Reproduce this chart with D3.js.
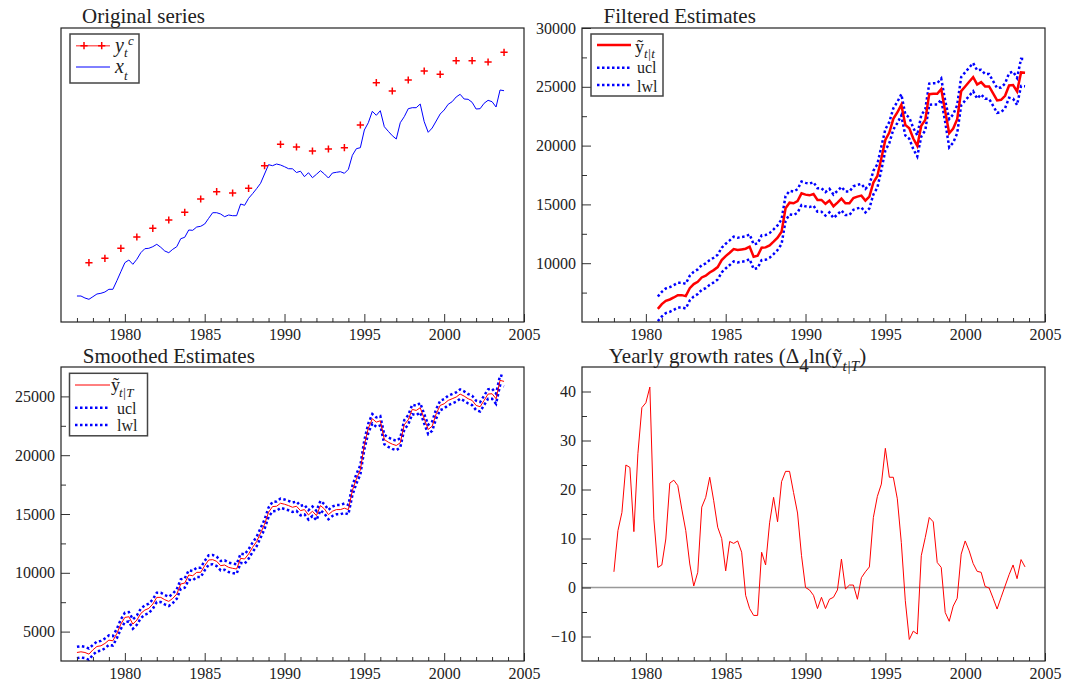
<!DOCTYPE html>
<html>
<head>
<meta charset="utf-8">
<script src="https://cdn.jsdelivr.net/npm/d3@7"></script>
<style>
  body { margin: 0; background: #fff; }
  text { font-family: "Liberation Serif", "Times New Roman", serif; }
</style>
</head>
<body>
<svg id="chart" width="1066" height="688"></svg>
<script>
// ---- data ---------------------------------------------------------------
// quarterly indicator x_t, 1977Q1..2003Q4 (panel has no y scale, plot units)
const xT = [
  26, 26, 24, 22.7, 25.3, 28, 28.7, 30, 32.7, 32.7,
  41.3, 50.3, 59.3, 62, 57.7, 62.7, 69.3, 73.3, 73.7, 75.3,
  77.7, 74.7, 71, 69.3, 72.7, 75.3, 83.3, 84.7, 92, 91.7,
  95, 95.7, 98, 103.7, 109.3, 109.3, 108, 105.3, 107, 106.3,
  106.3, 118, 116.7, 123.7, 128.3, 133.3, 138.7, 148, 157.3, 156.3,
  158, 157, 155.3, 153.3, 153.2, 149.5, 150.8, 145.3, 149.3, 144.3,
  147.7, 151.3, 148, 144, 149, 149.7, 150.3, 148.7, 152.7, 166.7,
  173.3, 174.3, 192, 199.3, 210.7, 206.7, 211.3, 195.3, 190.7, 186.3,
  183, 199.3, 205.3, 213.3, 214.3, 214.3, 218, 200.3, 189.7, 194,
  201, 208, 212, 217.7, 220.3, 225, 227.7, 223, 222.7, 219.7,
  213, 213.3, 218.7, 221.7, 220.3, 215, 232, 231.3
];
// annual series y_t^c, 1977..2003 (plotted at Q4)
const yC = [
  59.3, 63.7, 73.7, 85, 93.7, 102, 109.7, 123, 130.3, 129,
  133.7, 156.3, 177.7, 175, 171, 173, 174.3, 197, 239.3, 231,
  242, 251, 247.7, 261.3, 261.3, 260, 269.7
];
// filtered estimates, 1980Q4..2003Q4
const filtEst = [
  6120, 6518, 6802, 6915, 7086, 7284, 7284, 7199, 7881, 8221,
  8420, 8789, 8931, 9215, 9414, 9669, 10265, 10606, 10890, 11202,
  11117, 11174, 11231, 11401, 10549, 10634, 11316, 11344, 11514, 11827,
  12167, 12678, 14666, 15148, 15092, 15290, 15943, 15830, 15773, 15887,
  15376, 15380, 15050, 15320, 14840, 15150, 15490, 15093, 15093, 15547,
  15660, 15746, 15320, 15660, 16852, 17420, 18925, 20487, 21111, 22275,
  22815, 23468, 21764, 21480, 20600, 19976, 21679, 22190, 24376, 24405,
  24405, 24802, 22900, 21054, 21452, 22247, 24632, 25029, 25427, 25824,
  25199, 25398, 25029, 25029, 24433, 23837, 23893, 24234, 25114, 25143,
  24603, 26222, 26200
];
// half width of the filtered band, by year 1980..2003
const filtBandYear = [
  1050, 1050, 1050, 1050, 1050, 1050, 1050, 1050, 1050,
  1000, 1000, 1000, 1000, 1000, 1000,
  900, 900, 900, 900,
  1200, 1200, 1050, 1050, 1150
];
// smoothed estimates, 1977Q1..2003Q4
const smoothEst = [
  3224, 3281, 3224, 3082, 3451, 3735, 3792, 3991, 4275, 4218,
  4843, 5638, 6205, 6262, 5638, 5978, 6546, 6830, 6972, 7342,
  7909, 7909, 7710, 7569, 7824, 8193, 9044, 9130, 9811, 9754,
  10038, 10038, 10606, 11088, 11117, 10975, 10606, 10663, 10464, 10379,
  10322, 11231, 11174, 11600, 12167, 12650, 13388, 14127, 15148, 15631,
  15659, 15915, 15830, 15716, 15574, 15659, 15290, 15375, 14921, 15233,
  14864, 15716, 15432, 14950, 15233, 15375, 15375, 15489, 15375, 16993,
  17987, 18754, 20883, 22302, 23097, 22813, 22927, 21337, 21110, 20940,
  20826, 21054, 22587, 23013, 23893, 23807, 24034, 23097, 22189, 22473,
  23523, 24233, 24375, 24659, 24801, 24943, 25198, 25028, 24801, 24659,
  24233, 24119, 24659, 25198, 25227, 24801, 26362, 26277
];
// half width of the smoothed band, by year 1977..2003
const smoothBandYear = [
  480, 420, 400, 400, 400, 400, 400, 400, 400, 400,
  400, 400, 400, 400, 400, 400, 400, 400, 400, 400,
  400, 400, 400, 400, 400, 400, 430
];
// yearly growth rates, 1978Q1..2003Q4
const growth = [
  3.2, 11.6, 15.3, 25.0, 24.5, 11.4, 27.3, 36.7, 37.7, 40.9,
  14.0, 4.1, 4.6, 9.9, 21.3, 21.9, 20.8, 16.0, 11.6, 4.8,
  0.3, 3.1, 16.4, 18.4, 22.5, 17.7, 12.3, 10.0, 3.4, 9.4,
  9.0, 9.5, 7.2, -1.6, -4.3, -5.7, -5.7, 7.2, 4.6, 13.2,
  18.4, 13.4, 21.6, 23.7, 23.7, 19.4, 15.2, 6.5, 0.0, -0.5,
  -1.6, -4.3, -2.0, -4.3, -2.4, -2.0, -0.5, 5.8, -0.3, 0.5,
  0.5, -2.4, 2.0, 3.2, 4.2, 14.3, 18.6, 21.1, 28.4, 22.5,
  22.5, 18.1, 9.2, -2.7, -10.6, -8.9, -9.5, 6.5, 10.2, 14.3,
  13.4, 5.1, 4.1, -5.1, -6.9, -3.8, -2.2, 6.8, 9.5, 7.5,
  4.9, 3.3, 3.1, 0.2, -0.1, -2.2, -4.4, -2.0, 0.3, 2.6,
  4.6, 1.8, 5.7, 4.2
];
const yearTicks = [1980, 1985, 1990, 1995, 2000, 2005];

// ---- layout --------------------------------------------------------------
const W = 463, H = 294;
const svg = d3.select("#chart");
svg.append("rect").attr("width", 1066).attr("height", 688).attr("fill", "#fff");

function makePanel(left, top, yDomain, id) {
  const g = svg.append("g").attr("transform", `translate(${left},${top})`);
  const x = d3.scaleLinear([1976, 2005], [0, W]);
  const y = d3.scaleLinear(yDomain, [H, 0]);
  g.append("clipPath").attr("id", id)
    .append("rect").attr("width", W).attr("height", H);
  const plot = g.append("g").attr("clip-path", `url(#${id})`);
  return { g, plot, x, y };
}

function styleAxis(sel) {
  sel.attr("font-family", null).attr("font-size", null);
  sel.select(".domain").remove();
  sel.selectAll(".tick line").attr("stroke", "#333");
  sel.selectAll(".tick text")
    .attr("font-size", 16)
    .attr("fill", "#222");
}

function xAxis(p) {
  const minor = d3.range(1977, 2005).filter((d) => d % 5 !== 0);
  p.g.append("g").attr("transform", `translate(0,${H})`)
    .call(d3.axisBottom(p.x).tickValues(minor).tickSize(-4).tickFormat(""))
    .call(styleAxis);
  p.g.append("g").attr("transform", `translate(0,${H})`)
    .call(d3.axisBottom(p.x).tickValues(yearTicks).tickSize(-8).tickPadding(7).tickFormat(d3.format("d")))
    .call(styleAxis);
}

function yAxis(p, major, minor) {
  p.g.append("g")
    .call(d3.axisLeft(p.y).tickValues(minor).tickSize(-5).tickFormat(""))
    .call(styleAxis);
  p.g.append("g")
    .call(d3.axisLeft(p.y).tickValues(major).tickSize(-9).tickPadding(6).tickFormat(d3.format("d")))
    .call(styleAxis);
}

function frame(p) {
  p.g.append("rect").attr("width", W).attr("height", H)
    .attr("fill", "none").attr("stroke", "#222").attr("stroke-width", 1.2);
}

function title(x, y, txt) {
  return svg.append("text").attr("x", x).attr("y", y)
    .attr("font-size", 21).attr("fill", "#222").text(txt);
}

function lineOf(p, start, data) {
  return d3.line().x((d, i) => p.x(start + i / 4)).y((d) => p.y(d))(data);
}

const dotted = { stroke: "#0000ff", width: 2.5, dash: "2.5,2.5" };

function legendBox(p, x, y, w, h) {
  p.g.append("rect").attr("x", x).attr("y", y).attr("width", w).attr("height", h)
    .attr("fill", "#fff").attr("stroke", "#444").attr("stroke-width", 1.5);
}

// ---- panel 1: original series -------------------------------------------
const p1 = makePanel(61, 28, [0, 294], "c1");
p1.plot.append("path").attr("d", lineOf(p1, 1977, xT))
  .attr("fill", "none").attr("stroke", "#0000ff").attr("stroke-width", 1);
const cross = (g, cx, cy, s) => {
  g.append("path")
    .attr("d", `M${cx - s},${cy}H${cx + s}M${cx},${cy - s}V${cy + s}`)
    .attr("stroke", "#ff0000").attr("stroke-width", 1.5).attr("fill", "none");
};
yC.forEach((v, k) => cross(p1.plot, p1.x(1977.75 + k), p1.y(v), 3.6));
xAxis(p1);
frame(p1);
legendBox(p1, 9, 6, 69, 49);
p1.g.append("line").attr("x1", 15).attr("x2", 49).attr("y1", 17.7).attr("y2", 17.7)
  .attr("stroke", "#ff0000").attr("stroke-opacity", 0.6).attr("stroke-width", 1.5);
cross(p1.g, 23, 17.7, 3.6);
cross(p1.g, 40.7, 17.7, 3.6);
p1.g.append("text").attr("x", 54).attr("y", 24).attr("font-size", 20)
  .attr("font-style", "italic").attr("fill", "#222").text("y");
p1.g.append("text").attr("x", 63).attr("y", 29).attr("font-size", 13)
  .attr("font-style", "italic").attr("fill", "#222").text("t");
p1.g.append("text").attr("x", 67).attr("y", 17).attr("font-size", 13)
  .attr("font-style", "italic").attr("fill", "#222").text("c");
p1.g.append("line").attr("x1", 15).attr("x2", 49).attr("y1", 39).attr("y2", 39)
  .attr("stroke", "#0000ff").attr("stroke-width", 1);
p1.g.append("text").attr("x", 54).attr("y", 44.5).attr("font-size", 20)
  .attr("font-style", "italic").attr("fill", "#222").text("x");
p1.g.append("text").attr("x", 63).attr("y", 51.5).attr("font-size", 13)
  .attr("font-style", "italic").attr("fill", "#222").text("t");
title(82, 23, "Original series");

// ---- panel 2: filtered estimates ----------------------------------------
const p2 = makePanel(582, 28, [5000, 30000], "c2");
const fUcl = filtEst.map((v, i) => v + filtBandYear[Math.floor((i + 3) / 4)]);
const fLwl = filtEst.map((v, i) => v - filtBandYear[Math.floor((i + 3) / 4)]);
[fUcl, fLwl].forEach((s) => {
  p2.plot.append("path").attr("d", lineOf(p2, 1980.75, s)).attr("fill", "none")
    .attr("stroke", dotted.stroke).attr("stroke-width", dotted.width)
    .attr("stroke-dasharray", dotted.dash);
});
p2.plot.append("path").attr("d", lineOf(p2, 1980.75, filtEst))
  .attr("fill", "none").attr("stroke", "#ff0000").attr("stroke-width", 2.5);
xAxis(p2);
yAxis(p2, [10000, 15000, 20000, 25000, 30000], [7500, 12500, 17500, 22500, 27500]);
frame(p2);
legendBox(p2, 9, 6, 72, 62);
p2.g.append("line").attr("x1", 15).attr("x2", 49).attr("y1", 17).attr("y2", 17)
  .attr("stroke", "#ff0000").attr("stroke-width", 2.5);
p2.g.append("text").attr("x", 53).attr("y", 24.5).attr("font-size", 18)
  .attr("fill", "#222").text("ỹ");
p2.g.append("text").attr("x", 62).attr("y", 30).attr("font-size", 13)
  .attr("font-style", "italic").attr("fill", "#222").text("t|t");
[[39.7, 45.3, "ucl"], [57, 63.7, "lwl"]].forEach(([ly, ty, t]) => {
  p2.g.append("line").attr("x1", 15).attr("x2", 49).attr("y1", ly).attr("y2", ly)
    .attr("stroke", dotted.stroke).attr("stroke-width", dotted.width)
    .attr("stroke-dasharray", dotted.dash);
  p2.g.append("text").attr("x", 55).attr("y", ty).attr("font-size", 16)
    .attr("fill", "#222").text(t);
});
title(603.6, 23, "Filtered Estimates");

// ---- panel 3: smoothed estimates ----------------------------------------
const p3 = makePanel(61, 367, [2500, 27500], "c3");
const sUcl = smoothEst.map((v, i) => v + smoothBandYear[Math.floor(i / 4)]);
const sLwl = smoothEst.map((v, i) => v - smoothBandYear[Math.floor(i / 4)]);
[sUcl, sLwl].forEach((s) => {
  p3.plot.append("path").attr("d", lineOf(p3, 1977, s)).attr("fill", "none")
    .attr("stroke", dotted.stroke).attr("stroke-width", dotted.width)
    .attr("stroke-dasharray", dotted.dash);
});
p3.plot.append("path").attr("d", lineOf(p3, 1977, smoothEst))
  .attr("fill", "none").attr("stroke", "#ff0000").attr("stroke-width", 1);
xAxis(p3);
yAxis(p3, [5000, 10000, 15000, 20000, 25000], [7500, 12500, 17500, 22500]);
frame(p3);
legendBox(p3, 8.5, 6.3, 78, 62.5);
p3.g.append("line").attr("x1", 14).attr("x2", 49).attr("y1", 18).attr("y2", 18)
  .attr("stroke", "#ff0000").attr("stroke-width", 1);
p3.g.append("text").attr("x", 50).attr("y", 24).attr("font-size", 18)
  .attr("fill", "#222").text("ỹ");
p3.g.append("text").attr("x", 58).attr("y", 29.5).attr("font-size", 13)
  .attr("font-style", "italic").attr("fill", "#222").text("t|T");
[[40.7, 47, "ucl"], [58, 63.7, "lwl"]].forEach(([ly, ty, t]) => {
  p3.g.append("line").attr("x1", 14).attr("x2", 49).attr("y1", ly).attr("y2", ly)
    .attr("stroke", dotted.stroke).attr("stroke-width", dotted.width)
    .attr("stroke-dasharray", dotted.dash);
  p3.g.append("text").attr("x", 56).attr("y", ty).attr("font-size", 16)
    .attr("fill", "#222").text(t);
});
title(82.8, 363, "Smoothed Estimates");

// ---- panel 4: yearly growth rates ---------------------------------------
const p4 = makePanel(582, 367, [-15, 45], "c4");
p4.plot.append("line").attr("x1", 0).attr("x2", W)
  .attr("y1", p4.y(0)).attr("y2", p4.y(0))
  .attr("stroke", "#999").attr("stroke-width", 1.5);
p4.plot.append("path").attr("d", lineOf(p4, 1978, growth))
  .attr("fill", "none").attr("stroke", "#ff0000").attr("stroke-width", 1);
xAxis(p4);
yAxis(p4, [-10, 0, 10, 20, 30, 40], [-5, 5, 15, 25, 35]);
frame(p4);
const t4 = title(608.8, 363, "Yearly growth rates (Δ");
t4.append("tspan").attr("dy", 9).attr("font-size", 19).text("4");
t4.append("tspan").attr("dy", -9).text("ln(ỹ");
t4.append("tspan").attr("dy", 8).attr("font-size", 15).attr("font-style", "italic").text("t|T");
t4.append("tspan").attr("dy", -8).text(")");
</script>
</body>
</html>
